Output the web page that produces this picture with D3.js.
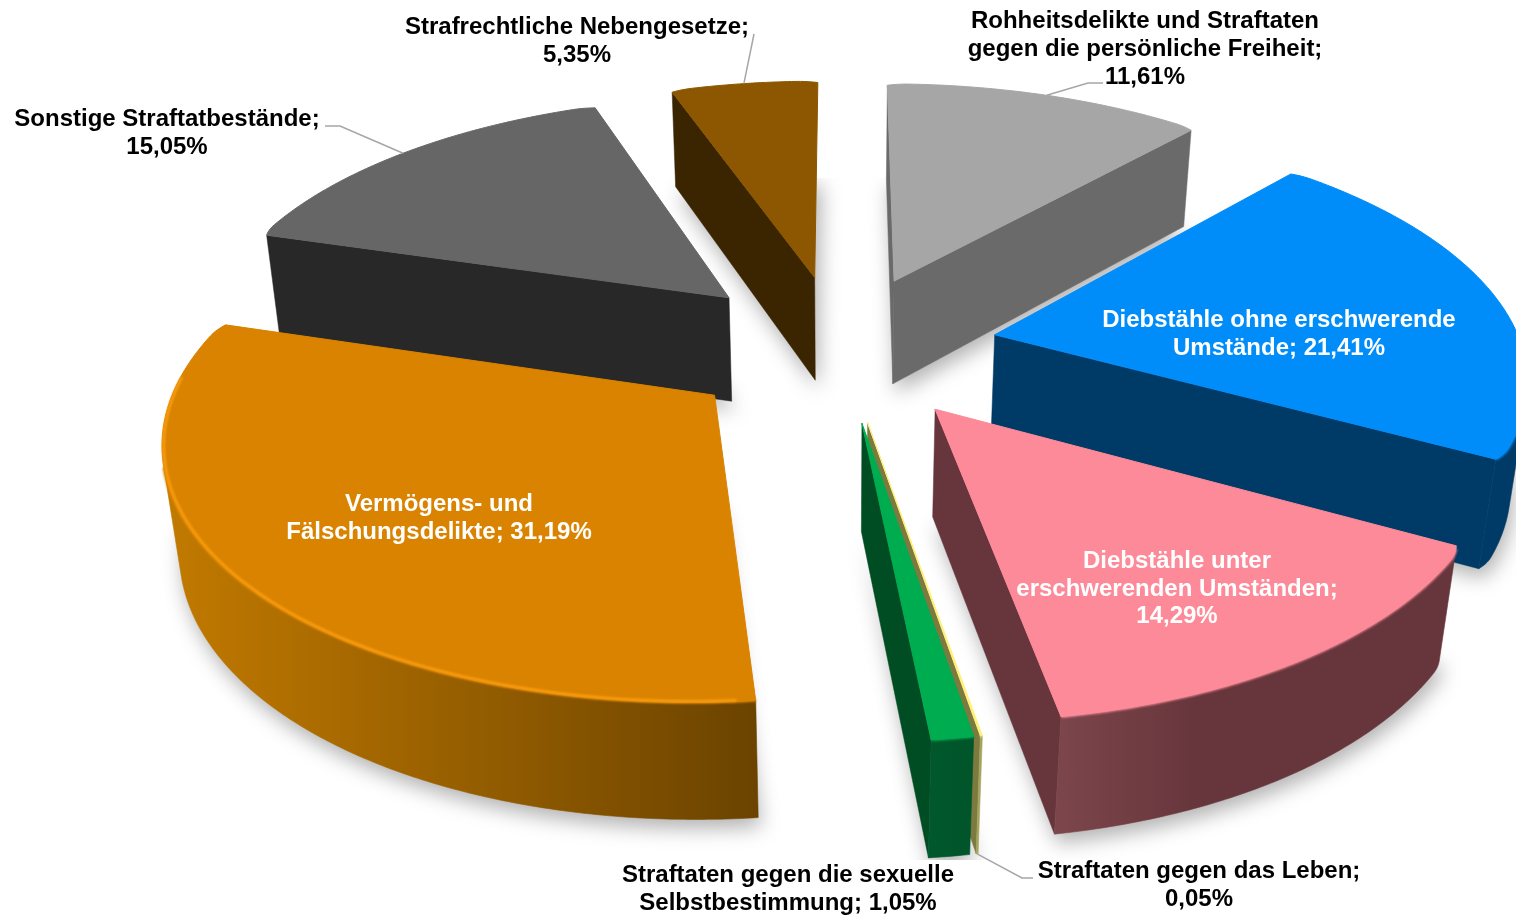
<!doctype html>
<html lang="de">
  <head>
    <meta charset="utf-8">
    <title>Straftaten nach Deliktsgruppen</title>
    <script src="https://d3js.org/d3.v7.min.js"></script>
    <style>
      html, body { margin: 0; padding: 0; background: #fff; }
      svg { display: block; }
      text { font-family: "Liberation Sans", Arial, sans-serif; font-weight: bold; font-size: 24px; }
    </style>
  </head>

  <body>
    <svg width="1516" height="916"></svg>

    <script>
      // data, in pie order (clockwise from 12 o'clock)
      var categories = [
        'Rohheitsdelikte und Straftaten gegen die persönliche Freiheit',
        'Diebstähle ohne erschwerende Umstände',
        'Diebstähle unter erschwerenden Umständen',
        'Straftaten gegen das Leben',
        'Straftaten gegen die sexuelle Selbstbestimmung',
        'Vermögens- und Fälschungsdelikte',
        'Sonstige Straftatbestände',
        'Strafrechtliche Nebengesetze'
      ];
      var values = [11.61, 21.41, 14.29, 0.05, 1.05, 31.19, 15.05, 5.35];

      // colours per slice
      var topColors = ['#a6a6a6', '#008df9', '#fd8a98', '#fff07a', '#00ac50', '#d98300', '#666666', '#8c5700'];
      var cutColors = ['#6a6a6a', '#003a66', '#67363c', '#7d7a40', '#004d24', '#6b4300', '#282828', '#3b2400'];
      var wallLeft = ['#6a6a6a', '#003a66', '#7c464c', '#a3a45c', '#00582b', '#c27a00', '#282828', '#3b2400'];
      var wallRight = ['#6a6a6a', '#003a66', '#67363c', '#a3a45c', '#00552a', '#6b4300', '#282828', '#3b2400'];

      // label text, position of each line's centre and baseline, colour
      var labelLines = [
        ['Rohheitsdelikte und Straftaten', 'gegen die persönliche Freiheit;', '11,61%'],
        ['Diebstähle ohne erschwerende', 'Umstände; 21,41%'],
        ['Diebstähle unter', 'erschwerenden Umständen;', '14,29%'],
        ['Straftaten gegen das Leben;', '0,05%'],
        ['Straftaten gegen die sexuelle', 'Selbstbestimmung; 1,05%'],
        ['Vermögens- und', 'Fälschungsdelikte; 31,19%'],
        ['Sonstige Straftatbestände;', '15,05%'],
        ['Strafrechtliche Nebengesetze;', '5,35%']
      ];
      var labelX = [1145, 1279, 1177, 1199, 788, 439, 167, 577];
      var labelY = [28, 327, 568, 878, 882, 511, 126, 34];
      var labelStep = [28, 28, 27.5, 28, 28, 28, 28, 28];
      var labelFill = ['#000', '#fff', '#fff', '#000', '#000', '#fff', '#000', '#000'];

      // leader lines: elbow points after the slice edge, empty when the label sits on the slice
      var leaders = [
        [[1088, 83], [1103, 83]],
        [],
        [],
        [[1022, 878], [1033, 878]],
        [],
        [],
        [[340, 126], [325, 126]],
        [[754, 34]]
      ];

      // perspective of the pie plane
      var cx = 840, cy = 347;
      var rx = 527, ry = 245;
      var persp = 0.15;
      var wallH = 108, wallDepth = 0.025;
      var explode = 0.3;

      var svg = d3.select('svg');
      var defs = svg.append('defs');

      defs.append('filter').attr('id', 'shadowBlur')
        .attr('x', '-30%').attr('y', '-30%').attr('width', '160%').attr('height', '160%')
        .append('feGaussianBlur').attr('stdDeviation', 10);
      defs.append('filter').attr('id', 'rimBlur')
        .attr('filterUnits', 'userSpaceOnUse')
        .attr('x', 0).attr('y', 0).attr('width', 1516).attr('height', 916)
        .append('feGaussianBlur').attr('stdDeviation', 1);
      defs.append('clipPath').attr('id', 'shadowClip')
        .append('rect').attr('x', 0).attr('y', 178).attr('width', 1516).attr('height', 682);

      var project = function(X, Y, h){
        var w = 1 + persp * Y + wallDepth * h;
        return [cx + rx * X / w, cy + (-ry * Y + wallH * h) / w];
      };

      // point of a slice at pie angle a and radius r, h = 0 on top, 1 on the bottom
      var slicePoint = function(d, a, r, h){
        var mid = (d.startAngle + d.endAngle) / 2;
        return project(explode * Math.sin(mid) + r * Math.sin(a),
                       explode * Math.cos(mid) + r * Math.cos(a), h);
      };

      // the outer corners of bigger slices are rounded off a little, but not at the very front
      var rimRadius = function(d, a){
        if (d.endAngle - d.startAngle < 0.2 || Math.cos(a) < -0.7) return 1;
        var dist = Math.min(a - d.startAngle, d.endAngle - a);
        var t = Math.max(0, 1 - dist / 0.05);
        return 1 - 0.008 * t * t;
      };

      var arcPoints = function(d, h){
        var n = Math.max(2, Math.ceil((d.endAngle - d.startAngle) / 0.01));
        return d3.range(n + 1).map(function(i){
          var a = d.startAngle + (d.endAngle - d.startAngle) * i / n;
          return slicePoint(d, a, rimRadius(d, a), h);
        });
      };

      var line = d3.line();
      var shapePath = function(pts){ return line(pts) + 'Z'; };

      // d3.polygonArea is positive for counterclockwise on screen, which is how a wall faces us
      var faceArea = function(q){ return d3.polygonArea(q); };

      var pie = d3.pie().sort(null).value(function(d){ return d; })
        .startAngle(0).endAngle(2 * Math.PI);
      var slices = pie(values);
      slices.forEach(function(d, i){
        d.i = i;
        d.mid = (d.startAngle + d.endAngle) / 2;
        d.rimTop = arcPoints(d, 0);
        d.rimBottom = arcPoints(d, 1);
        d.apexTop = slicePoint(d, 0, 0, 0);
        d.apexBottom = slicePoint(d, 0, 0, 1);
      });

      // shadows under everything
      svg.append('g').attr('clip-path', 'url(#shadowClip)')
        .append('g').attr('filter', 'url(#shadowBlur)').attr('transform', 'translate(3,9)')
        .selectAll('path').data(slices).enter().append('path')
        .attr('d', function(d){ return shapePath([d.apexBottom].concat(d.rimBottom)); })
        .attr('fill', '#000')
        .attr('opacity', 0.3);

      // back to front
      var order = slices.slice().sort(function(a, b){ return Math.cos(b.mid) - Math.cos(a.mid); });

      order.forEach(function(d){
        var g = svg.append('g').attr('class', 'slice');
        var n = d.rimTop.length - 1;

        // straight cut faces, slivers under 700 px are hidden in the reference
        var cuts = [
          [d.apexTop, d.rimTop[0], d.rimBottom[0], d.apexBottom],
          [d.rimTop[n], d.apexTop, d.apexBottom, d.rimBottom[n]]
        ];
        cuts.forEach(function(q){
          if (faceArea(q) > 700) {
            g.append('path').attr('d', shapePath(q))
              .attr('fill', cutColors[d.i]).attr('stroke', cutColors[d.i]).attr('stroke-width', 0.5);
          }
        });

        // outer wall, only the part turned towards the viewer
        var upper = [], lower = [];
        for (var k = 0; k < n; k++) {
          if (faceArea([d.rimTop[k], d.rimTop[k + 1], d.rimBottom[k + 1], d.rimBottom[k]]) > 0) {
            if (!upper.length) { upper.push(d.rimTop[k]); lower.push(d.rimBottom[k]); }
            upper.push(d.rimTop[k + 1]);
            lower.push(d.rimBottom[k + 1]);
          }
        }
        if (upper.length) {
          var xs = upper.concat(lower).map(function(p){ return p[0]; });
          var id = 'wall' + d.i;
          var grad = defs.append('linearGradient').attr('id', id)
            .attr('gradientUnits', 'userSpaceOnUse')
            .attr('x1', d3.min(xs)).attr('x2', d3.max(xs)).attr('y1', 0).attr('y2', 0);
          grad.append('stop').attr('offset', 0).attr('stop-color', wallLeft[d.i]);
          grad.append('stop').attr('offset', d.i === 2 ? 0.35 : 1).attr('stop-color', wallRight[d.i]);
          g.append('path').attr('d', shapePath(upper.concat(lower.slice().reverse())))
            .attr('fill', 'url(#' + id + ')')
            .attr('stroke', 'url(#' + id + ')')
            .attr('stroke-width', 0.6);
        }

        // top face
        g.append('path').attr('d', shapePath([d.apexTop].concat(d.rimTop)))
          .attr('fill', topColors[d.i])
          .attr('stroke', topColors[d.i])
          .attr('stroke-width', 1)
          .attr('stroke-linejoin', 'round');

        // soft edge where the top meets the wall
        if (upper.length) {
          g.append('path').attr('d', line(upper))
            .attr('fill', 'none')
            .attr('stroke', topColors[d.i])
            .attr('stroke-width', 2.5)
            .attr('filter', 'url(#rimBlur)');
        }
      });

      // bevel highlight along the front of the largest slice
      var big = slices[5];
      var rimPts = d3.range(0, 61).map(function(i){
        var a = big.startAngle + 0.03 + (big.endAngle - big.startAngle - 0.25) * i / 60;
        return slicePoint(big, a, 0.997, 0);
      });
      svg.append('path').attr('d', line(rimPts))
        .attr('fill', 'none')
        .attr('stroke', '#ff9f12')
        .attr('stroke-width', 2.5)
        .attr('filter', 'url(#rimBlur)');

      // leader lines start on the outer edge of their slice
      slices.forEach(function(d, i){
        if (!leaders[i].length) return;
        var start = slicePoint(d, d.mid, 1, d.i === 3 ? 1 : 0);
        svg.append('path').attr('d', line([start].concat(leaders[i])))
          .attr('fill', 'none')
          .attr('stroke', '#a6a6a6')
          .attr('stroke-width', 1.5);
      });

      // labels
      categories.forEach(function(name, i){
        var t = svg.append('text').attr('text-anchor', 'middle').attr('fill', labelFill[i]);
        t.selectAll('tspan').data(labelLines[i]).enter().append('tspan')
          .attr('x', labelX[i])
          .attr('y', function(l, j){ return labelY[i] + j * labelStep[i]; })
          .text(function(l){ return l; });
      });
    </script>
  </body>
</html>
